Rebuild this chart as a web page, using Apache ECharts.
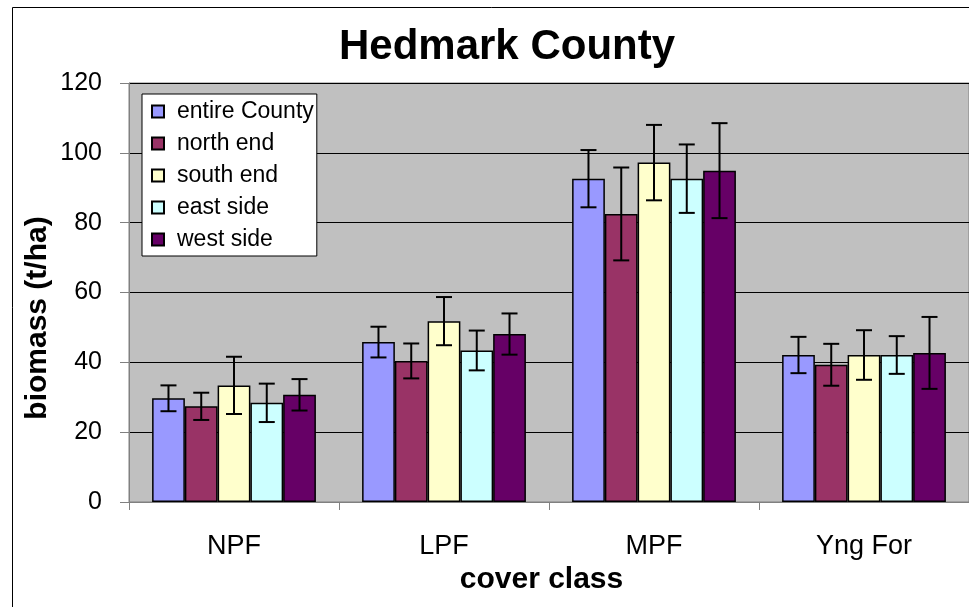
<!DOCTYPE html>
<html>
<head>
<meta charset="utf-8">
<script src="https://cdn.jsdelivr.net/npm/echarts@6/dist/echarts.min.js"></script>
<style>
html,body{margin:0;padding:0;background:#fff;}
#chart{width:969px;height:607px;}
</style>
</head>
<body>
<div id="chart"></div>
<script>
var categories = ['NPF', 'LPF', 'MPF', 'Yng For'];
var seriesNames = ['entire County', 'north end', 'south end', 'east side', 'west side'];
var entireCounty = [29.7, 45.8, 92.6, 42.1];
var northEnd     = [27.4, 40.4, 82.5, 39.3];
var southEnd     = [33.4, 51.8, 97.2, 42.1];
var eastSide     = [28.4, 43.4, 92.6, 42.1];
var westSide     = [30.7, 48.1, 94.9, 42.7];
var entireCountyErr = [3.7, 4.4, 8.2, 5.2];
var northEndErr     = [3.9, 5.0, 13.3, 6.0];
var southEndErr     = [8.2, 6.9, 10.8, 7.1];
var eastSideErr     = [5.5, 5.7, 9.8, 5.4];
var westSideErr     = [4.5, 5.9, 13.6, 10.3];
var yTicks = [0, 20, 40, 60, 80, 100, 120];

var values = [entireCounty, northEnd, southEnd, eastSide, westSide];
var errors = [entireCountyErr, northEndErr, southEndErr, eastSideErr, westSideErr];
var colors = ['#9999FF', '#993366', '#FFFFCC', '#CCFFFF', '#660066'];
var FONT = 'Liberation Sans, Arial, sans-serif';
var GAP = 0.22;
var N = seriesNames.length;

var series = [];
values.forEach(function (vals, i) {
  series.push({
    name: seriesNames[i],
    type: 'bar',
    data: vals,
    barGap: '0%',
    barCategoryGap: (GAP * 100) + '%',
    itemStyle: { color: colors[i], borderColor: '#000', borderWidth: 1.5 },
    z: 2
  });
});
values.forEach(function (vals, i) {
  var errData = vals.map(function (v, k) { return [k, v - errors[i][k], v + errors[i][k]]; });
  series.push({
    type: 'custom',
    name: seriesNames[i] + ' err',
    data: errData,
    z: 5,
    silent: true,
    renderItem: function (params, api) {
      var k = api.value(0);
      var lo = api.coord([k, api.value(1)]);
      var hi = api.coord([k, api.value(2)]);
      var catW = api.size([1, 0])[0];
      var bw = catW * (1 - GAP) / N;
      var x = lo[0] + (i - (N - 1) / 2) * bw;
      var cap = 8;
      var st = { stroke: '#000', lineWidth: 2 };
      return {
        type: 'group',
        children: [
          { type: 'line', shape: { x1: x, y1: lo[1], x2: x, y2: hi[1] }, style: st },
          { type: 'line', shape: { x1: x - cap, y1: lo[1], x2: x + cap, y2: lo[1] }, style: st },
          { type: 'line', shape: { x1: x - cap, y1: hi[1], x2: x + cap, y2: hi[1] }, style: st }
        ]
      };
    }
  });
});

var chart = echarts.init(document.getElementById('chart'));
chart.setOption({
  animation: false,
  backgroundColor: '#fff',
  textStyle: { fontFamily: FONT },
  title: {
    text: 'Hedmark County',
    left: 502, top: 21, textAlign: 'center',
    textStyle: { fontFamily: FONT, fontSize: 42, fontWeight: 'bold', color: '#000' }
  },
  graphic: [{
    type: 'rect', z: -1, silent: true,
    shape: { x: 12.5, y: 7.5, width: 1000, height: 700 },
    style: { fill: null, stroke: '#000', lineWidth: 1 }
  }, {
    type: 'text', silent: true,
    x: 38, y: 318, rotation: Math.PI / 2,
    style: {
      text: 'biomass (t/ha)', fill: '#000',
      font: 'bold 30px Liberation Sans, Arial, sans-serif',
      textAlign: 'center', textVerticalAlign: 'middle'
    }
  }],
  legend: {
    data: seriesNames,
    orient: 'vertical',
    left: 142, top: 94,
    backgroundColor: '#fff',
    borderColor: '#000', borderWidth: 1,
    padding: [6, 3, 5, 9],
    itemGap: 9,
    itemWidth: 12, itemHeight: 12,
    icon: 'rect',
    textStyle: { fontFamily: FONT, fontSize: 23, color: '#000', padding: [0, 0, 0, 8] }
  },
  grid: {
    show: true, left: 129, top: 83, width: 841, height: 419,
    backgroundColor: '#C0C0C0', borderColor: '#808080', borderWidth: 1
  },
  xAxis: {
    type: 'category',
    data: categories,
    name: 'cover class',
    nameLocation: 'middle',
    nameGap: 61,
    nameTextStyle: { fontFamily: FONT, fontSize: 30, fontWeight: 'bold', color: '#000', padding: [0, 15, 0, 0] },
    axisLine: { lineStyle: { color: '#808080', width: 1 } },
    axisTick: { show: true, length: 8, lineStyle: { color: '#808080' } },
    axisLabel: { fontFamily: FONT, fontSize: 27, color: '#000', margin: 31 },
    splitLine: { show: false }
  },
  yAxis: {
    type: 'value',
    min: 0, max: 120, interval: 20,
    axisLine: { show: true, lineStyle: { color: '#808080', width: 1 } },
    axisTick: { show: true, length: 9, lineStyle: { color: '#808080' } },
    axisLabel: { fontFamily: FONT, fontSize: 25, color: '#000', margin: 27,
      formatter: function (v) { return yTicks.indexOf(v) >= 0 ? String(v) : ''; } },
    splitLine: { show: true, lineStyle: { color: '#000', width: 1 } }
  },
  series: series
});
</script>
</body>
</html>
